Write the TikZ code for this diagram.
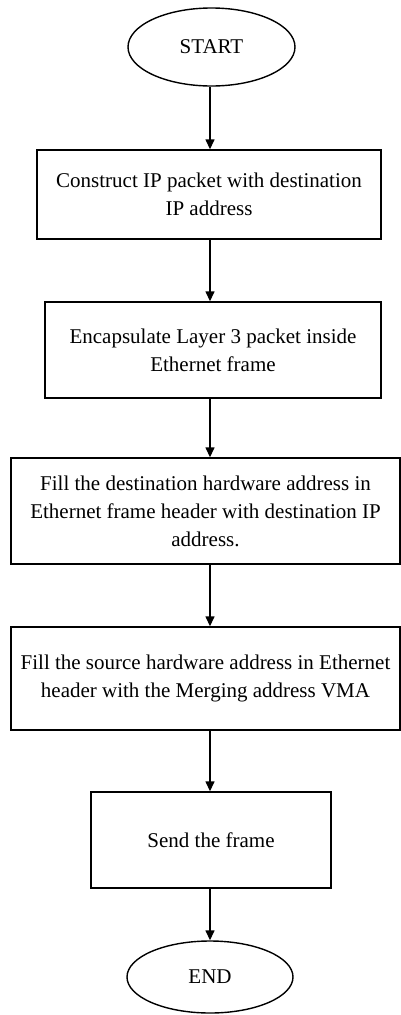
\documentclass[tikz,border=0pt]{standalone}
\usepackage{fontspec}
\setmainfont{Liberation Serif}
\usetikzlibrary{arrows.meta,shapes.geometric}
\begin{document}
\begin{tikzpicture}[x=1pt,y=-1pt,
  flow/.style={line width=1.4pt, -{Triangle[length=10pt,width=9pt]}},
  stepbox/.style={draw, line width=1.4pt, rectangle, inner sep=0pt, align=center,
    font=\fontsize{21}{28}\selectfont},
  term/.style={draw, line width=1.4pt, ellipse, inner sep=0pt,
    font=\fontsize{21}{28}\selectfont}]
\useasboundingbox (0,0) rectangle (401,1015);

% terminals and process steps
\node[term, minimum width=167pt, minimum height=78pt] (start) at (211.5,47) {START};
\node[stepbox, minimum width=344pt, minimum height=89pt] (s1) at (209,194.5)
  {Construct IP packet with destination\\IP address};
\node[stepbox, minimum width=336pt, minimum height=96pt] (s2) at (213,350)
  {Encapsulate Layer 3 packet inside\\Ethernet frame};
\node[stepbox, minimum width=389pt, minimum height=106pt] (s3) at (205.5,511)
  {Fill the destination hardware address in\\Ethernet frame header with destination IP\\address.};
\node[stepbox, minimum width=389pt, minimum height=103pt] (s4) at (205.5,678.5)
  {Fill the source hardware address in Ethernet\\header with the Merging address VMA};
\node[stepbox, minimum width=240pt, minimum height=96pt] (s5) at (211,840)
  {Send the frame};
\node[term, minimum width=166pt, minimum height=72pt] (stop) at (210,977) {END};

% vertical flow line
\coordinate (col) at (210,0);
\draw[flow] (col |- start.south) -- (col |- s1.north);
\draw[flow] (col |- s1.south) -- (col |- s2.north);
\draw[flow] (col |- s2.south) -- (col |- s3.north);
\draw[flow] (col |- s3.south) -- (col |- s4.north);
\draw[flow] (col |- s4.south) -- (col |- s5.north);
\draw[flow] (col |- s5.south) -- (col |- stop.north);
\end{tikzpicture}
\end{document}
